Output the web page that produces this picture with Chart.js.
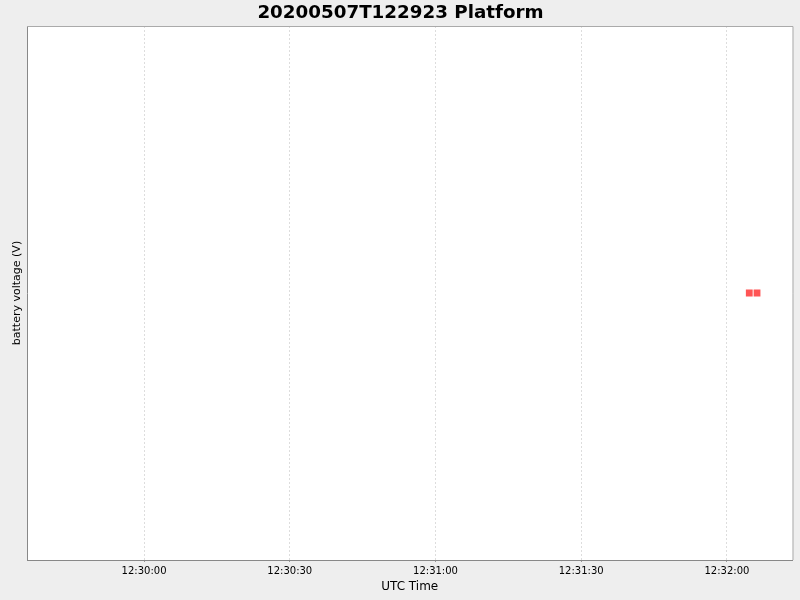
<!DOCTYPE html>
<html>
<head>
<meta charset="utf-8">
<script src="https://cdn.jsdelivr.net/npm/chart.js@4/dist/chart.umd.min.js"></script>
<style>
  html, body { margin: 0; padding: 0; background: #EEEEEE; }
  #wrap { width: 800px; height: 600px; }
</style>
</head>
<body>
<div id="wrap"><canvas id="c" width="800" height="600"></canvas></div>
<script>
// ---- data ----
const chartTitle = '20200507T122923 Platform';
const xTitle = 'UTC Time';
const yTitle = 'battery voltage (V)';
const tickLabels = ['12:30:00', '12:30:30', '12:31:00', '12:31:30', '12:32:00'];
const sampleTimes = ['12:32:04.6', '12:32:06.2'];
const batteryVoltage = [12.8, 12.8];
const xRange = ['12:29:35.9', '12:32:13.5'];
const yRange = [12.3, 13.3];

function toSec(s) {
  const p = s.split(':').map(Number);
  return p[0] * 3600 + p[1] * 60 + p[2];
}
const tickValues = tickLabels.map(toSec);
const points = sampleTimes.map((t, i) => ({ x: toSec(t), y: batteryVoltage[i] }));

const plotBg = {
  id: 'plotBg',
  beforeDraw(chart) {
    const { ctx, chartArea: a } = chart;
    ctx.save();
    ctx.fillStyle = '#FFFFFF';
    ctx.fillRect(a.left, a.top, a.right - a.left, a.bottom - a.top);
    ctx.restore();
  },
  afterDraw(chart) {
    const { ctx, chartArea: a } = chart;
    ctx.save();
    ctx.strokeStyle = '#AAAAAA';
    ctx.lineWidth = 1;
    ctx.beginPath();
    ctx.moveTo(a.left, a.top + 0.5);
    ctx.lineTo(a.right + 0.5, a.top + 0.5);
    ctx.lineTo(a.right + 0.5, a.bottom);
    ctx.stroke();
    ctx.fillStyle = '#000000';
    ctx.font = 'bold 18.3px "DejaVu Sans"';
    ctx.textAlign = 'center';
    ctx.textBaseline = 'middle';
    ctx.fillText(chartTitle, 400.5, 13);
    ctx.restore();
  }
};

new Chart(document.getElementById('c'), {
  type: 'scatter',
  data: {
    datasets: [{
      data: points,
      pointStyle: 'rect',
      pointRadius: 4.8,
      pointHoverRadius: 4.8,
      backgroundColor: '#FF5555',
      borderWidth: 0
    }]
  },
  options: {
    responsive: false,
    animation: false,
    events: [],
    layout: { padding: { top: 26, right: 7.5, bottom: 0, left: 0 } },
    plugins: { legend: { display: false }, title: { display: false }, tooltip: { enabled: false } },
    scales: {
      x: {
        type: 'linear',
        min: toSec(xRange[0]),
        max: toSec(xRange[1]),
        afterBuildTicks(axis) { axis.ticks = tickValues.map(v => ({ value: v })); },
        afterFit(axis) { axis.height = 40; },
        ticks: {
          callback: (v) => tickLabels[tickValues.indexOf(v)],
          font: { family: 'DejaVu Sans', size: 10 },
          color: '#000000',
          padding: 3,
          maxRotation: 0,
          autoSkip: false
        },
        grid: {
          color: '#DDDDDD',
          tickColor: '#999999',
          tickLength: 2,
          lineWidth: 1
        },
        border: { display: true, color: '#888888', width: 1, dash: [2, 2] },
        title: {
          display: true,
          text: xTitle,
          font: { family: 'DejaVu Sans', size: 12 },
          color: '#000000',
          padding: { top: 0, bottom: 6 }
        }
      },
      y: {
        min: yRange[0],
        max: yRange[1],
        afterFit(axis) { axis.width = 27; },
        ticks: { display: false },
        grid: { display: false },
        border: { display: true, color: '#888888', width: 1 },
        title: {
          display: true,
          text: yTitle,
          font: { family: 'DejaVu Sans', size: 11 },
          color: '#000000',
          padding: { top: 11, bottom: 0 }
        }
      }
    }
  },
  plugins: [plotBg]
});
</script>
</body>
</html>
